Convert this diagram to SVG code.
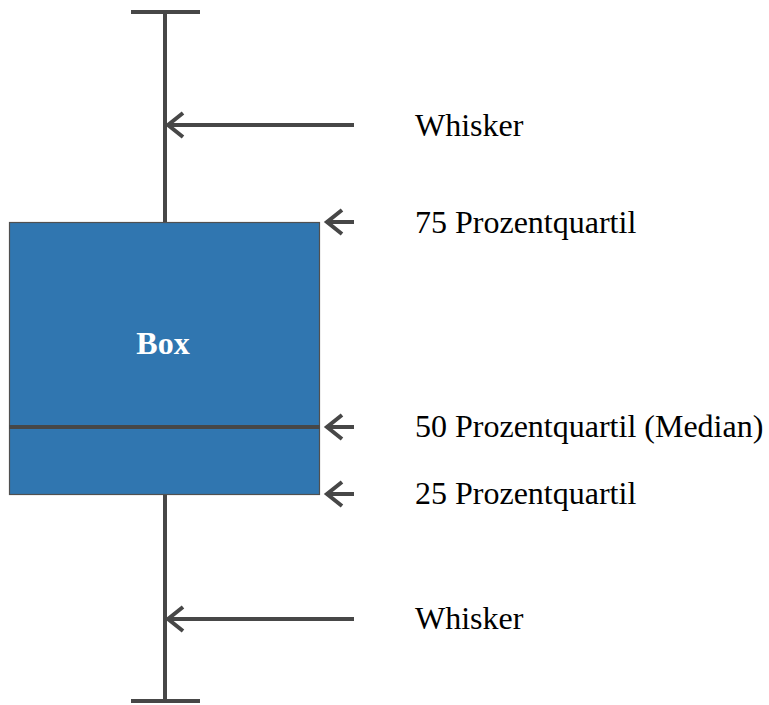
<svg xmlns="http://www.w3.org/2000/svg" width="769" height="705" viewBox="0 0 769 705">
  <style>
    .ln { stroke: #474747; stroke-width: 4; fill: none; }
    .head { stroke: #474747; stroke-width: 4; fill: none; stroke-linejoin: miter; }
    .lbl { font-family: "Liberation Serif", "Times New Roman", serif; font-size: 32px; fill: #000; }
    .boxlbl { font-family: "Liberation Serif", "Times New Roman", serif; font-size: 32px; font-weight: bold; fill: #fff; }
  </style>
  <defs>
    <path id="chev" d="M15,-12 L0,0 L15,12"/>
  </defs>

  <g id="whisker-top">
    <line class="ln" x1="131" y1="12" x2="200" y2="12"/>
    <line class="ln" x1="165" y1="12" x2="165" y2="222"/>
  </g>

  <g id="whisker-bottom">
    <line class="ln" x1="165" y1="494" x2="165" y2="701"/>
    <line class="ln" x1="131" y1="701" x2="200" y2="701"/>
  </g>

  <g id="box">
    <rect x="9.5" y="222.5" width="310" height="272" fill="#3076b0" stroke="#505050" stroke-width="1.2"/>
    <line class="ln" x1="9" y1="427" x2="320" y2="427"/>
    <text class="boxlbl" x="163" y="354" text-anchor="middle">Box</text>
  </g>

  <g id="connectors">
    <line class="ln" x1="168" y1="125" x2="354" y2="125"/>
    <use href="#chev" class="head" x="168" y="125"/>
    <line class="ln" x1="327" y1="222" x2="354" y2="222"/>
    <use href="#chev" class="head" x="327" y="222"/>
    <line class="ln" x1="327" y1="427" x2="354" y2="427"/>
    <use href="#chev" class="head" x="327" y="427"/>
    <line class="ln" x1="327" y1="494" x2="354" y2="494"/>
    <use href="#chev" class="head" x="327" y="494"/>
    <line class="ln" x1="168" y1="619" x2="354" y2="619"/>
    <use href="#chev" class="head" x="168" y="619"/>
  </g>

  <g id="labels">
    <text class="lbl" x="415" y="136">Whisker</text>
    <text class="lbl" x="415" y="233">75 Prozentquartil</text>
    <text class="lbl" x="415" y="437">50 Prozentquartil (Median)</text>
    <text class="lbl" x="415" y="504">25 Prozentquartil</text>
    <text class="lbl" x="415" y="629">Whisker</text>
  </g>
</svg>
